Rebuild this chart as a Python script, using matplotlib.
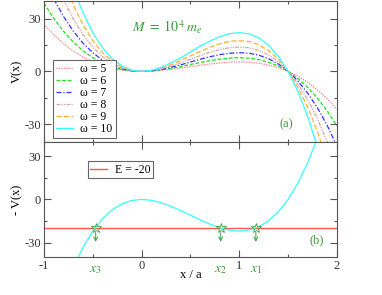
import matplotlib
matplotlib.use("Agg")
import matplotlib.pyplot as plt
import matplotlib.transforms as mtransforms
import numpy as np

# ── data ────────────────────────────────────────────────────────────────────
X = [-1.0, -0.9, -0.8, -0.7, -0.6, -0.5, -0.4, -0.3, -0.2, -0.1, 0.0,
     0.1, 0.2, 0.3, 0.4, 0.5, 0.6, 0.7, 0.8, 0.9, 1.0,
     1.1, 1.2, 1.3, 1.4, 1.5, 1.6, 1.7, 1.8, 1.9, 2.0]

V5 = [26.8, 20.8, 15.8, 11.5, 8.1, 5.4, 3.3, 1.7, 0.7, 0.2, 0.0,
      0.1, 0.6, 1.2, 1.9, 2.7, 3.5, 4.2, 4.8, 5.2, 5.4,
      5.2, 4.6, 3.6, 2.1, 0.0, -2.7, -6.2, -10.4, -15.5, -21.4]
V6 = [38.8, 30.1, 22.8, 16.7, 11.7, 7.8, 4.7, 2.5, 1.1, 0.2, 0.0,
      0.2, 0.8, 1.7, 2.7, 3.9, 5.0, 6.1, 6.9, 7.5, 7.8,
      7.5, 6.7, 5.2, 3.0, 0.0, -4.0, -9.0, -15.1, -22.4, -31.0]
V7 = [53.0, 41.2, 31.2, 22.9, 16.0, 10.6, 6.4, 3.4, 1.4, 0.3, 0.0,
      0.3, 1.1, 2.3, 3.7, 5.3, 6.9, 8.3, 9.5, 10.3, 10.6,
      10.3, 9.2, 7.2, 4.2, 0.0, -5.4, -12.3, -20.6, -30.6, -42.4]
V8 = [69.0, 53.7, 40.6, 29.8, 20.9, 13.8, 8.4, 4.5, 1.9, 0.4, 0.0,
      0.4, 1.4, 3.0, 4.9, 6.9, 8.9, 10.8, 12.4, 13.4, 13.8,
      13.4, 11.9, 9.3, 5.4, 0.0, -7.1, -16.0, -26.8, -39.9, -55.2]
V9 = [87.5, 68.0, 51.5, 37.7, 26.5, 17.5, 10.6, 5.7, 2.4, 0.6, 0.0,
      0.5, 1.8, 3.8, 6.2, 8.8, 11.3, 13.7, 15.7, 17.0, 17.5,
      16.9, 15.1, 11.8, 6.9, 0.0, -9.0, -20.2, -34.0, -50.5, -70.0]
V10 = [110.0, 85.5, 64.8, 47.4, 33.3, 22.0, 13.4, 7.1, 3.0, 0.7, 0.0,
       0.6, 2.3, 4.8, 7.7, 11.0, 14.3, 17.2, 19.7, 21.4, 22.0,
       21.3, 19.0, 14.9, 8.6, 0.0, -11.3, -25.4, -42.8, -63.5, -88.0]

OMEGAS = [5, 6, 7, 8, 9, 10]
E_LEVEL = -20
ROOTS = [-0.47, 0.81, 1.17]
ROOT_LABELS = [r"$x_3$", r"$x_2$", r"$x_1$"]

COLORS = ["#ff7f7f", "#22dd22", "#3333ff", "#d9a3a3", "#ffb030", "#33ffff"]
STYLES = [(0, (1, 1)), (0, (3, 1.5)), (0, (4, 1.5, 1, 1.5)),
          (0, (3, 1, 1, 1, 1, 1)), (0, (4, 2)), "-"]
GREEN = "#3a9d3a"
AXC = "#555555"

plt.rcParams.update({
    "font.family": "Liberation Serif",
    "mathtext.fontset": "stix",
    "axes.unicode_minus": False,
    "font.size": 9,
    "axes.edgecolor": AXC,
    "xtick.color": AXC,
    "ytick.color": AXC,
    "xtick.labelcolor": "#333333",
    "ytick.labelcolor": "#333333",
})

fig = plt.figure(figsize=(3.82, 2.95), dpi=100)
ax1 = fig.add_axes([0.115, 0.519, 0.767, 0.478])
ax2 = fig.add_axes([0.115, 0.129, 0.767, 0.390])

for ax in (ax1, ax2):
    ax.set_xlim(-1, 2)
    ax.set_ylim(-40, 40)
    ax.set_xticks([-1, 0, 1, 2])
    ax.set_xticks([-0.5, 0.5, 1.5], minor=True)
    ax.set_yticks([-30, 0, 30])
    ax.set_yticks([-15, 15], minor=True)
    ax.tick_params(which="both", direction="in", top=True, right=True, width=0.8)
    ax.tick_params(which="major", length=5, labelsize=9, pad=2)
    ax.tick_params(which="minor", length=2.5)

ax1.tick_params(labelbottom=False)

# ── panel (a) ───────────────────────────────────────────────────────────────
for w, v, c, ls in zip(OMEGAS, [V5, V6, V7, V8, V9, V10], COLORS, STYLES):
    ax1.plot(X, v, color=c, linestyle=ls, linewidth=0.9, label=f"ω = {w}")
leg = ax1.legend(loc="lower left", bbox_to_anchor=(0.03, 0.025), fontsize=8.5,
                 frameon=True, fancybox=False, framealpha=1, edgecolor="#666666",
                 handlelength=1.5, labelspacing=0.0, borderpad=0.25,
                 handletextpad=0.6, borderaxespad=0)
leg.get_frame().set_linewidth(0.8)
ax1.text(-0.1, 22.5, r"$M\ =\ \mathit{10}^{4}\ m_e$", color=GREEN, fontsize=10)
ax1.text(1.41, -30, "(a)", color=GREEN, fontsize=9, va="center")
ax1.set_ylabel("V(x)", fontsize=9, labelpad=1)

# ── panel (b) ───────────────────────────────────────────────────────────────
ax2.axhline(E_LEVEL, color="#ff5555", linewidth=1.0, label=f"E = {E_LEVEL}")
ax2.plot(X, [-v for v in V10], color=COLORS[-1], linewidth=0.9)
ax2.plot(ROOTS, [E_LEVEL] * len(ROOTS), linestyle="none", marker="*",
         markersize=7, markerfacecolor="none", markeredgecolor=GREEN,
         markeredgewidth=0.6)
for r in ROOTS:
    ax2.annotate("", xy=(r, -29.5), xytext=(r, -23),
                 arrowprops=dict(arrowstyle="->", color=GREEN, lw=0.7,
                                 shrinkA=0, shrinkB=0, mutation_scale=7))
leg2 = ax2.legend(loc="upper left", bbox_to_anchor=(0.15, 0.83), fontsize=8.5,
                  frameon=True, fancybox=False, framealpha=1, edgecolor="#666666",
                  handlelength=1.4, borderpad=0.2, handletextpad=0.7,
                  borderaxespad=0)
leg2.get_frame().set_linewidth(0.8)
ax2.text(1.72, -28.5, "(b)", color=GREEN, fontsize=9, va="center")
ax2.set_ylabel("- V(x)", fontsize=9, labelpad=1)
ax2.set_xlabel("x / a", fontsize=9, labelpad=-2)

trans = mtransforms.blended_transform_factory(ax2.transData, ax2.transAxes)
for r, lab in zip(ROOTS, ROOT_LABELS):
    ax2.text(r, -0.05, lab, transform=trans, color=GREEN, fontsize=10,
             ha="center", va="top")

fig.savefig("out.png", dpi=100)
